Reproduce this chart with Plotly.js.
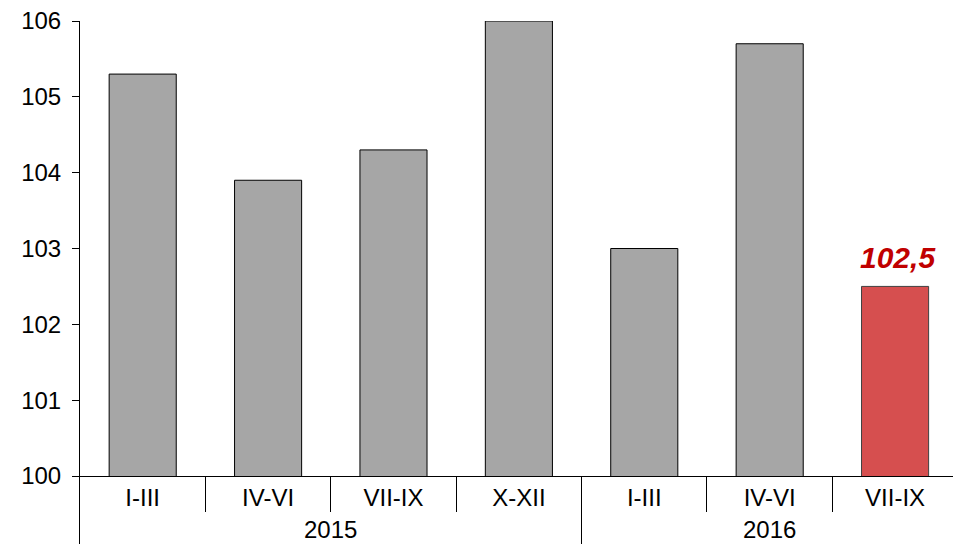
<!DOCTYPE html>
<html>
<head>
<meta charset="utf-8">
<script src="https://cdn.plot.ly/plotly-3.0.1.min.js"></script>
<style>html,body{margin:0;padding:0;background:#fff;}#chart{width:953px;height:544px;}</style>
</head>
<body>
<div id="chart"></div>
<script>
var years = ['2015','2015','2015','2015','2016','2016','2016'];
var quarters = ['I-III','IV-VI','VII-IX','X-XII','I-III','IV-VI','VII-IX'];
var values = [105.3, 103.9, 104.3, 106.0, 103.0, 105.7, 102.5];
var highlightIndex = values.length - 1;

var font = 'Liberation Sans, Arial, sans-serif';
var idx = quarters.map(function(q, i){ return i; });
var fillColors = idx.map(function(i){ return i === highlightIndex ? '#D64F4F' : '#A6A6A6'; });
var lineColors = idx.map(function(i){ return i === highlightIndex ? '#404040' : '#000000'; });

// group structure from the year array
var groups = [];
years.forEach(function(y, i){
  if (!groups.length || groups[groups.length-1].name !== y) groups.push({name: y, start: i, end: i});
  else groups[groups.length-1].end = i;
});
var boundaries = idx.slice(0, -1).map(function(i){ return i + 0.5; });

var W = 953, H = 544, mL = 80, mR = 0, mT = 21, mB = 68;
var xRange = [-0.5, 6.462];
var plotW = W - mL - mR, plotH = H - mT - mB;
var shapes = [];
groups.forEach(function(g){
  [g.start - 0.5, g.end + 0.5].forEach(function(b){
    var frac = (b - xRange[0]) / (xRange[1] - xRange[0]);
    if (frac < -0.001 || frac > 1.001) return;
    var pix = Math.round(frac * plotW) - 0.5;      // snap to the pixel grid like the axis line
    var px = pix / plotW;
    shapes.push({type: 'line', xref: 'paper', yref: 'paper', x0: px, x1: px, y0: 0, y1: -mB / plotH,
      line: {color: '#000', width: 1}, layer: 'above'});
  });
});
var annotations = groups.map(function(g){
  return {xref: 'x', yref: 'paper', x: (g.start + g.end) / 2, y: 0, yanchor: 'top', yshift: -38,
    text: g.name, showarrow: false, font: {family: font, size: 24, color: '#000'}};
});
annotations.push({xref: 'x', yref: 'y', x: highlightIndex, y: values[highlightIndex],
  yanchor: 'bottom', xshift: 3, yshift: 10, showarrow: false,
  text: values[highlightIndex].toFixed(1).replace('.', ','),
  font: {family: font, size: 30, color: '#C00000', weight: 'bold', style: 'italic'}});

var trace = {
  type: 'bar',
  x: idx,
  y: values,
  width: 0.535,
  marker: {color: fillColors, line: {color: lineColors, width: 1}},
  hoverinfo: 'skip'
};

var layout = {
  width: W, height: H,
  margin: {l: mL, r: mR, t: mT, b: mB},
  paper_bgcolor: '#fff', plot_bgcolor: '#fff',
  showlegend: false,
  font: {family: font, size: 24, color: '#000'},
  xaxis: {
    range: xRange,
    tickmode: 'array', tickvals: idx, ticktext: quarters,
    ticks: '', ticklabelstandoff: 0,
    minor: {tickmode: 'array', tickvals: boundaries, ticks: 'outside', ticklen: 35, tickcolor: '#000', tickwidth: 1, showgrid: false},
    showline: true, linecolor: '#000', linewidth: 1,
    tickfont: {family: font, size: 24, color: '#000'},
    showgrid: false, zeroline: false
  },
  yaxis: {
    range: [100, 106], dtick: 1, tick0: 100,
    showline: true, linecolor: '#000', linewidth: 1,
    ticks: 'outside', ticklen: 7, tickcolor: '#000', ticklabelstandoff: 6,
    tickfont: {family: font, size: 24, color: '#000'},
    showgrid: false, zeroline: false
  },
  shapes: shapes,
  annotations: annotations
};

Plotly.newPlot('chart', [trace], layout, {displayModeBar: false, staticPlot: true});
</script>
</body>
</html>
